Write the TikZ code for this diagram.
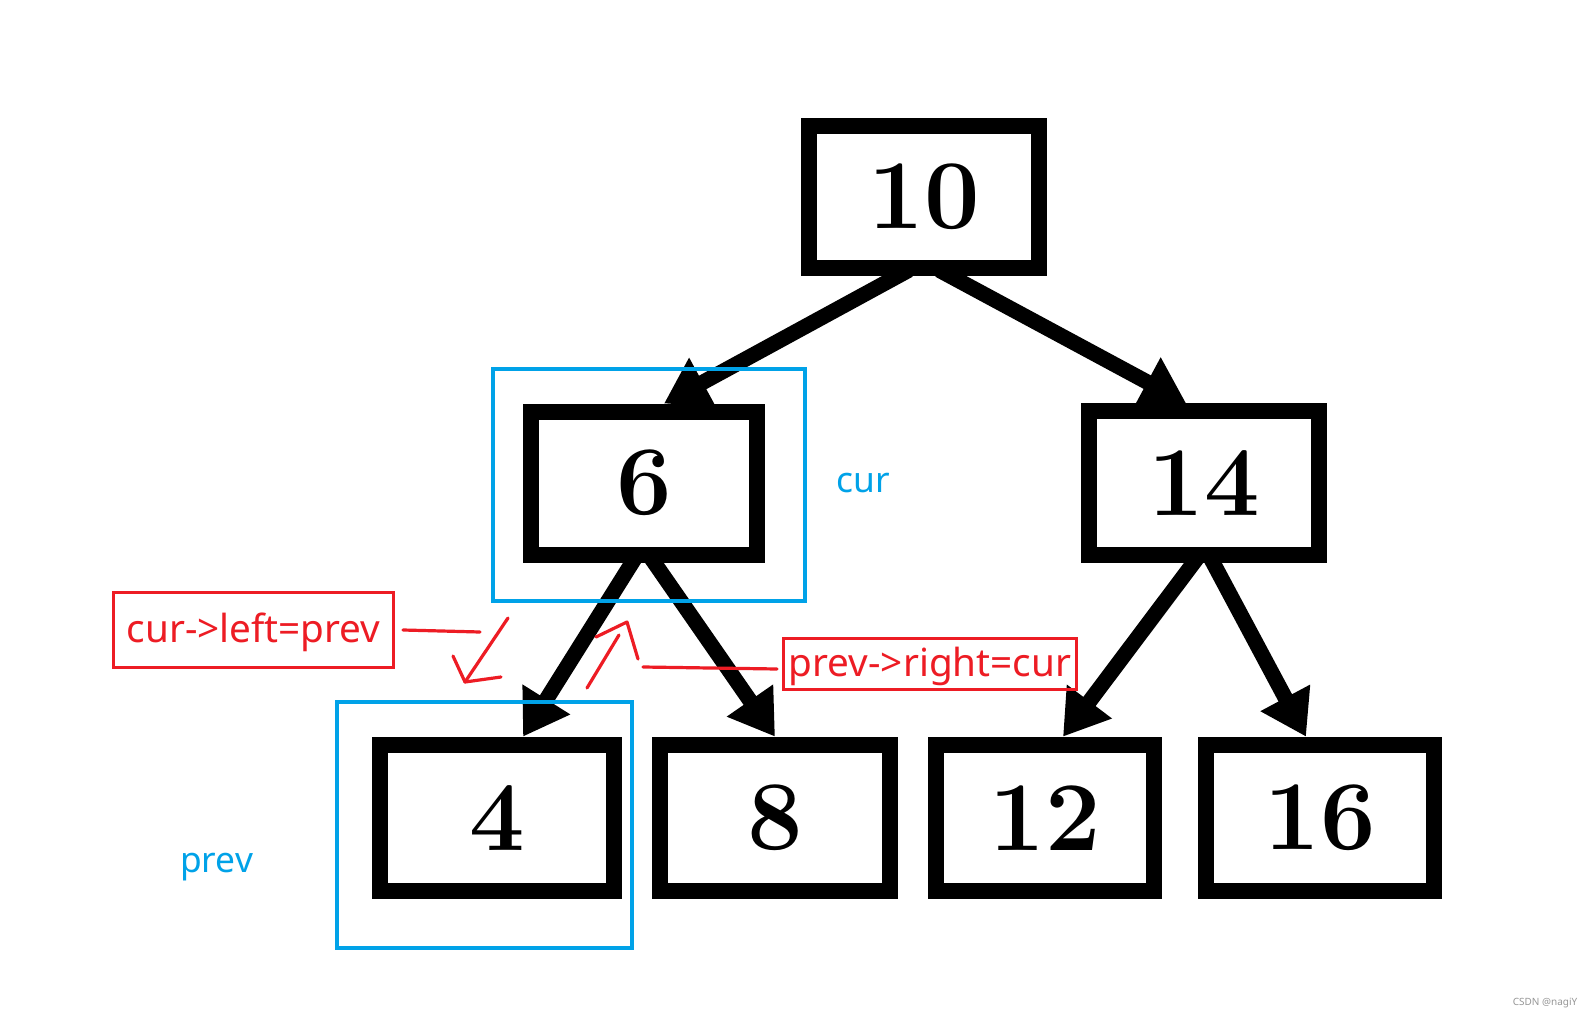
\documentclass[tikz,border=0pt]{standalone}
\usepackage{fontspec}
\newfontfamily\uifont{Noto Sans}
\usetikzlibrary{arrows.meta,calc}
\definecolor{pblue}{RGB}{0,162,232}
\definecolor{pred}{RGB}{237,28,36}
\definecolor{wmgray}{RGB}{150,150,150}
\begin{document}
\begin{tikzpicture}[x=0.75pt,y=-0.75pt,
  treebox/.style={draw=black, line width=12pt, fill=white, inner sep=0pt,
    font=\fontsize{74}{74}\selectfont\bfseries},
  edge/.style={draw=black, line width=11.5pt, -{Triangle[length=33pt,width=40pt]}},
  hilite/.style={draw=pblue, line width=2.6pt, inner sep=0pt},
  redlbl/.style={draw=pred, line width=2.3pt, text=pred, inner sep=0pt, text depth=0pt,
    font=\uifont\fontsize{29}{29}\selectfont},
  bluelbl/.style={text=pblue, inner sep=0pt, anchor=base west,
    font=\uifont\fontsize{26.5}{26.5}\selectfont},
  stroke/.style={draw=pred, line width=2.4pt, line cap=round, line join=round}]
\useasboundingbox[fill=white] (0,0) rectangle (1595,1027);

% tree nodes
\node[treebox, minimum width=172pt, minimum height=106.5pt] (n10) at (924,197) {10};
\node[treebox, minimum width=169.5pt, minimum height=107.25pt] (n6) at (644,483) {6};
\node[treebox, minimum width=172pt, minimum height=108pt] (n14) at (1204,483) {14};
\node[treebox, minimum width=175.5pt, minimum height=110pt] (n4) at (497,818) {4};
\node[treebox, minimum width=172pt, minimum height=110pt] (n8) at (775,818) {8};
\node[treebox, minimum width=164pt, minimum height=110pt] (n12) at (1045,818) {12};
\node[treebox, minimum width=171pt, minimum height=110pt] (n16) at (1320,818) {16};

% edges
\draw[edge] ($(n10.south)+(-15,-6)$) -- ($(n6.north)+(20,0)$);
\draw[edge] ($(n10.south)+(15,-6)$) -- ($(n14.north)+(-18,0)$);
\draw[edge] ($(n6.south)+(-8,-6)$) -- ($(n4.north)+(26,0)$);
\draw[edge] ($(n6.south)+(6,-6)$) -- ($(n8.north)+(0,0)$);
\draw[edge] ($(n14.south)+(-6,-6)$) -- ($(n12.north)+(18,0)$);
\draw[edge] ($(n14.south)+(6,-6)$) -- ($(n16.north)+(-14,0)$);

% blue highlight frames
\node[hilite, minimum width=234pt, minimum height=174pt] (curframe) at (649,485) {};
\node[hilite, minimum width=221.25pt, minimum height=184.5pt] (prevframe) at (484.5,825) {};
\node[bluelbl] (curtxt) at (836,492) {cur};
\node[bluelbl] (prevtxt) at (180,872) {prev};

% red labels
\node[redlbl, minimum width=210pt, minimum height=56.25pt, text height=18pt] (lbl1) at (253.5,630) {cur->left=prev};
\node[redlbl, minimum width=219.75pt, minimum height=38.25pt, text height=19pt] (lbl2) at (930,664) {prev->right=cur};

% hand-drawn red strokes
\coordinate (a1) at (403,630);
\coordinate (a2) at (480,632);
\coordinate (b1) at (508,618);
\coordinate (b2) at (465,682);
\coordinate (b3) at (453,656);
\coordinate (b4) at (501,677);
\coordinate (c1) at (587,688);
\coordinate (c2) at (619,635);
\coordinate (c3) at (596,637);
\coordinate (c4) at (627,622);
\coordinate (c5) at (638,659);
\coordinate (d1) at (643,667);
\coordinate (d2) at (777,669);
\draw[stroke] (a1) -- (a2);
\draw[stroke] (b1) -- (b2);
\draw[stroke] (b3) -- (b2) -- (b4);
\draw[stroke] (c1) -- (c2);
\draw[stroke] (c3) -- (c4) -- (c5);
\draw[stroke] (d1) -- (d2);

% watermark
\node[text=wmgray, inner sep=0pt, font=\uifont\fontsize{7.5}{7.5}\selectfont] (wm) at (1545,1003) {CSDN @nagiY};
\end{tikzpicture}
\end{document}
